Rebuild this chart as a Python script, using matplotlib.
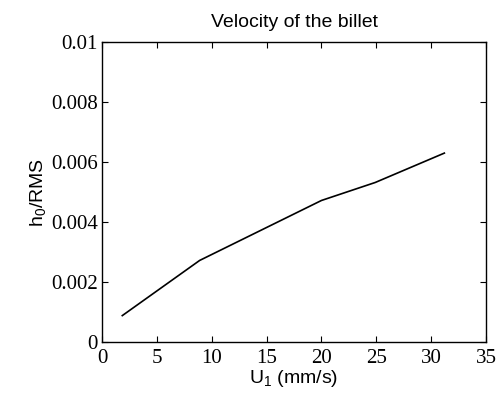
import matplotlib
matplotlib.use("Agg")
import matplotlib.pyplot as plt

plt.rcParams["mathtext.default"] = "regular"

# velocity of the billet vs h0/RMS
u1 = [1.85, 8.9, 20.0, 24.9, 31.2]
h0_rms = [0.00088, 0.00272, 0.00472, 0.00532, 0.00630]

xticks = [0, 5, 10, 15, 20, 25, 30, 35]
yticks = [0, 0.002, 0.004, 0.006, 0.008, 0.01]
ytick_labels = ["0", "0.002", "0.004", "0.006", "0.008", "0.01"]

fig = plt.figure(figsize=(4.97, 3.94), dpi=100)
ax = fig.add_axes([0.2052, 0.132, 0.7728, 0.761])
ax.plot(u1, h0_rms, color="black", linewidth=1.2)

ax.set_xlim(0, 35)
ax.set_ylim(0, 0.01)
ax.set_xticks(xticks)
ax.set_xticklabels([str(t) for t in xticks], family="Liberation Serif", fontsize=15)
ax.set_yticks(yticks)
ax.set_yticklabels(ytick_labels, family="Liberation Serif", fontsize=15)
ax.tick_params(direction="in", top=True, right=True, length=4, width=0.8)
ax.tick_params(axis="x", pad=5)
ax.tick_params(axis="y", pad=3)
for s in ax.spines.values():
    s.set_linewidth(1.0)

ax.set_xlabel("U$_1$ (mm/s)", family="Liberation Sans", fontsize=14, labelpad=0)
ax.set_ylabel("h$_0$/RMS", family="Liberation Sans", fontsize=14, labelpad=2)
ax.set_title("Velocity of the billet", family="Liberation Sans", fontsize=14, pad=11)

fig.savefig("out.png", dpi=100)
